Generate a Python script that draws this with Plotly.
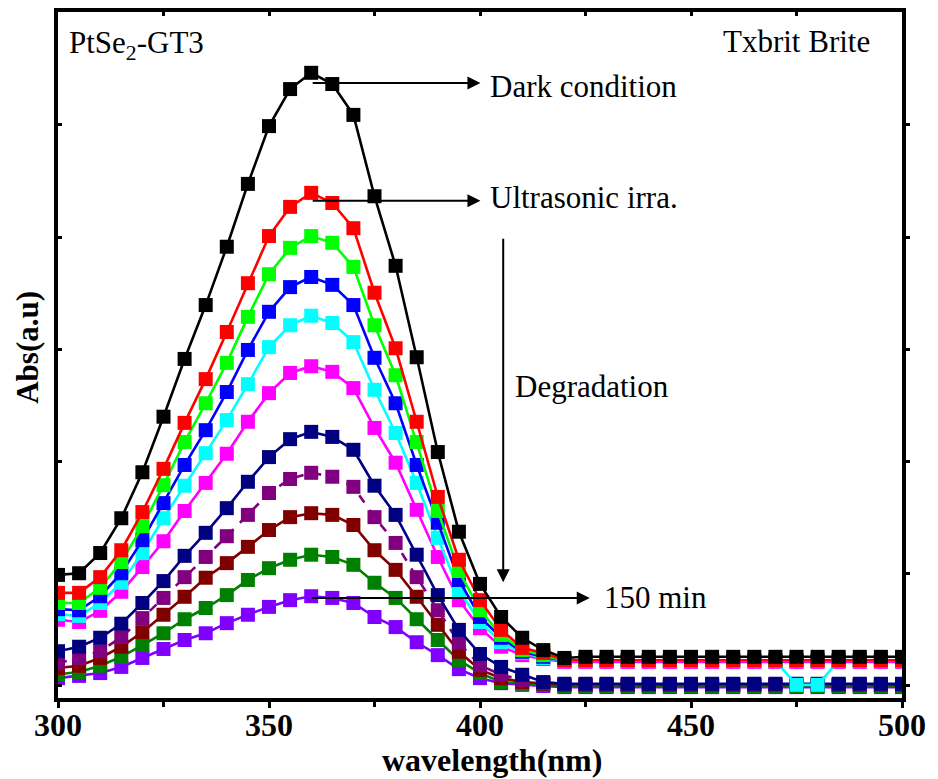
import plotly.graph_objects as go

# Wavelength grid (nm), one reading every 5 nm
wavelength = list(range(300, 505, 5))

# Absorbance spectra of the dye solution
abs_dark = [0.198, 0.201, 0.237, 0.299, 0.381, 0.480, 0.583, 0.679, 0.783, 0.895,
            0.998, 1.064, 1.093, 1.073, 1.018, 0.873, 0.749, 0.586, 0.417, 0.275,
            0.182, 0.123, 0.086, 0.064, 0.050, 0.052, 0.052, 0.052, 0.052, 0.052,
            0.052, 0.052, 0.052, 0.052, 0.052, 0.052, 0.052, 0.052, 0.052, 0.052, 0.052]
abs_ultra = [0.166, 0.166, 0.194, 0.242, 0.310, 0.387, 0.469, 0.547, 0.631, 0.718,
             0.802, 0.854, 0.879, 0.861, 0.816, 0.701, 0.602, 0.471, 0.337, 0.225,
             0.153, 0.100, 0.068, 0.059, 0.046, 0.046, 0.046, 0.046, 0.046, 0.046,
             0.046, 0.046, 0.046, 0.046, 0.046, 0.046, 0.046, 0.046, 0.046, 0.046, 0.046]
abs_t1 = [0.148, 0.148, 0.175, 0.221, 0.285, 0.358, 0.435, 0.504, 0.576, 0.658,
          0.734, 0.781, 0.802, 0.790, 0.747, 0.643, 0.554, 0.435, 0.312, 0.205,
          0.135, 0.091, 0.064, 0.055, 0.045, 0.045, 0.045, 0.045, 0.045, 0.045,
          0.045, 0.045, 0.045, 0.045, 0.045, 0.045, 0.045, 0.045, 0.045, 0.045, 0.045]
abs_t2 = [0.137, 0.135, 0.160, 0.201, 0.260, 0.326, 0.394, 0.456, 0.524, 0.599,
          0.667, 0.711, 0.729, 0.715, 0.679, 0.585, 0.504, 0.394, 0.291, 0.189,
          0.123, 0.086, 0.061, 0.052, 0.045, 0.045, 0.045, 0.045, 0.045, 0.045,
          0.045, 0.045, 0.045, 0.045, 0.045, 0.045, 0.045, 0.045, 0.045, 0.045, 0.045]
abs_t3 = [0.128, 0.125, 0.148, 0.184, 0.237, 0.299, 0.357, 0.415, 0.474, 0.538,
          0.604, 0.643, 0.660, 0.647, 0.613, 0.528, 0.451, 0.362, 0.264, 0.171,
          0.114, 0.078, 0.059, 0.050, 0.045, 0.045, 0.045, 0.045, 0.045, 0.045,
          0.045, 0.045, 0.045, 0.045, 0.045, 0.002, 0.002, 0.045, 0.045, 0.045, 0.045]
abs_t4 = [0.118, 0.114, 0.134, 0.168, 0.212, 0.258, 0.312, 0.362, 0.414, 0.471,
          0.522, 0.558, 0.570, 0.560, 0.531, 0.460, 0.398, 0.314, 0.230, 0.153,
          0.103, 0.070, 0.055, 0.048, 0.043, 0.043, 0.043, 0.043, 0.043, 0.043,
          0.043, 0.043, 0.043, 0.043, 0.043, 0.043, 0.043, 0.043, 0.043, 0.043, 0.043]
abs_t5 = [0.062, 0.070, 0.086, 0.111, 0.148, 0.187, 0.232, 0.273, 0.317, 0.364,
          0.408, 0.440, 0.453, 0.444, 0.421, 0.357, 0.305, 0.234, 0.162, 0.100,
          0.057, 0.034, 0.020, 0.007, 0.004, 0.004, 0.004, 0.004, 0.004, 0.004,
          0.004, 0.004, 0.004, 0.004, 0.004, 0.004, 0.004, 0.004, 0.004, 0.004, 0.004]
abs_t6 = [0.041, 0.050, 0.062, 0.087, 0.121, 0.157, 0.194, 0.230, 0.267, 0.305,
          0.344, 0.369, 0.380, 0.373, 0.355, 0.301, 0.255, 0.194, 0.135, 0.077,
          0.037, 0.020, 0.011, 0.005, 0.002, 0.002, 0.002, 0.002, 0.002, 0.002,
          0.002, 0.002, 0.002, 0.002, 0.002, 0.002, 0.002, 0.002, 0.002, 0.002, 0.002]
abs_t7 = [0.032, 0.036, 0.050, 0.070, 0.096, 0.127, 0.159, 0.193, 0.219, 0.248,
          0.278, 0.301, 0.308, 0.305, 0.287, 0.242, 0.207, 0.159, 0.109, 0.061,
          0.029, 0.014, 0.007, 0.004, 0.002, 0.002, 0.002, 0.002, 0.002, 0.002,
          0.002, 0.002, 0.002, 0.002, 0.002, 0.002, 0.002, 0.002, 0.002, 0.002, 0.002]
abs_t8 = [0.021, 0.025, 0.036, 0.052, 0.073, 0.094, 0.119, 0.139, 0.162, 0.189,
          0.210, 0.225, 0.234, 0.230, 0.216, 0.184, 0.157, 0.119, 0.082, 0.046,
          0.023, 0.007, 0.004, 0.002, 0.000, 0.000, 0.000, 0.000, 0.000, 0.000,
          0.000, 0.000, 0.000, 0.000, 0.000, 0.000, 0.000, 0.000, 0.000, 0.000, 0.000]
abs_150 = [0.014, 0.018, 0.023, 0.034, 0.050, 0.066, 0.082, 0.094, 0.112, 0.127,
           0.141, 0.153, 0.160, 0.157, 0.148, 0.123, 0.105, 0.078, 0.055, 0.030,
           0.014, 0.005, 0.002, 0.000, -0.002, -0.002, -0.002, -0.002, -0.002, -0.002,
           -0.002, -0.002, -0.002, -0.002, -0.002, -0.002, -0.002, -0.002, -0.002, -0.002, -0.002]

series_names = ["Dark", "Ultrasonic", "t1", "t2", "t3", "t4", "t5", "t6", "t7", "t8", "150 min"]
series_values = [abs_dark, abs_ultra, abs_t1, abs_t2, abs_t3, abs_t4,
                 abs_t5, abs_t6, abs_t7, abs_t8, abs_150]
series_colors = ["#000000", "#FF0000", "#00FF00", "#0000FF", "#00FFFF", "#FF00FF",
                 "#000080", "#800080", "#800000", "#008000", "#8000FF"]
series_dash = ["solid", "solid", "solid", "solid", "solid", "solid",
               "solid", "dash", "solid", "solid", "solid"]

x_ticks = [300, 350, 400, 450, 500]

FONT = "Liberation Serif, Times New Roman, serif"

fig = go.Figure()

# Last-measured spectrum first so the dark spectrum sits on top
for name, vals, col, dash in reversed(list(zip(series_names, series_values, series_colors, series_dash))):
    fig.add_trace(go.Scatter(
        x=wavelength, y=vals, name=name, mode="lines+markers",
        line=dict(color=col, width=2.6, dash=dash),
        marker=dict(symbol="square", size=14, color=col, line=dict(width=0)),
        showlegend=False,
    ))

# invisible trace to activate the mirrored top/right axes
fig.add_trace(go.Scatter(x=[300], y=[0], xaxis="x2", yaxis="y2", mode="markers",
                         marker=dict(opacity=0), showlegend=False, hoverinfo="skip"))

Y_RANGE = [-0.0214, 1.2014]
X_RANGE = [300, 500]

fig.update_layout(
    width=938, height=779,
    margin=dict(l=58, r=31, t=12, b=81),
    paper_bgcolor="white", plot_bgcolor="white",
    font=dict(family=FONT, color="black"),
    xaxis=dict(
        range=X_RANGE, tickvals=x_ticks, ticktext=[str(v) for v in x_ticks],
        showgrid=False, zeroline=False,
        showline=True, linecolor="black", linewidth=4,
        ticks="outside", ticklen=6, tickwidth=3, tickcolor="black",
        ticklabelstandoff=-10,
        tickfont=dict(family=FONT, size=32, color="black", weight="bold"),
        minor=dict(tickvals=[325, 375, 425, 475], ticks="outside", ticklen=5,
                   tickwidth=3, tickcolor="black"),
    ),
    yaxis=dict(
        range=Y_RANGE, tickvals=[0, 0.2, 0.4, 0.6, 0.8, 1.0], showticklabels=False,
        showgrid=False, zeroline=False,
        showline=True, linecolor="black", linewidth=4,
        ticks="inside", ticklen=4, tickwidth=3, tickcolor="black",
    ),
    xaxis2=dict(
        range=X_RANGE, overlaying="x", side="top", anchor="y2",
        tickvals=[325, 350, 375, 400, 425, 450, 475], showticklabels=False,
        showgrid=False, zeroline=False,
        showline=True, linecolor="black", linewidth=4,
        ticks="inside", ticklen=4, tickwidth=3, tickcolor="black",
    ),
    yaxis2=dict(
        range=Y_RANGE, overlaying="y", side="right", anchor="x2",
        tickvals=[0, 0.2, 0.4, 0.6, 0.8, 1.0], showticklabels=False,
        showgrid=False, zeroline=False,
        showline=True, linecolor="black", linewidth=4,
        ticks="outside", ticklen=4, tickwidth=3, tickcolor="black",
    ),
)

ann_font = dict(family=FONT, size=31, color="black")

# axis titles
fig.add_annotation(text="<b>wavelength(nm)</b>", xref="x", yref="paper",
                   x=402.9, y=-0.0904, showarrow=False,
                   xanchor="center", yanchor="middle",
                   font=dict(family=FONT, size=32, color="black"))
fig.add_annotation(text="<b>Abs(a.u)</b>", xref="paper", yref="paper",
                   x=-0.0363, y=0.511, showarrow=False, textangle=-90,
                   xanchor="center", yanchor="middle",
                   font=dict(family=FONT, size=31, color="black"))

# corner labels
fig.add_annotation(text="PtSe<sub>2</sub>-GT3", xref="x", yref="y",
                   x=302.1, y=1.143, showarrow=False, xanchor="left", yanchor="middle",
                   font=ann_font)
fig.add_annotation(text="Txbrit Brite", xref="x", yref="y",
                   x=492.9, y=1.148, showarrow=False, xanchor="right", yanchor="middle",
                   font=ann_font)

# arrows
def arrow(x_head, y_head, x_tail, y_tail):
    fig.add_annotation(x=x_head, y=y_head, ax=x_tail, ay=y_tail,
                       xref="x", yref="y", axref="x", ayref="y",
                       text="", showarrow=True, arrowhead=2, arrowsize=1.3,
                       arrowwidth=2, arrowcolor="black")

arrow(400.1, 1.075, 360.0, 1.075)
arrow(400.1, 0.865, 360.0, 0.865)
arrow(405.5, 0.185, 405.5, 0.800)
arrow(426.0, 0.157, 359.8, 0.157)

fig.add_annotation(text="Dark condition", xref="x", yref="y", x=401.8, y=1.068,
                   showarrow=False, xanchor="left", yanchor="middle", font=ann_font)
fig.add_annotation(text="Ultrasonic irra.", xref="x", yref="y", x=401.8, y=0.870,
                   showarrow=False, xanchor="left", yanchor="middle", font=ann_font)
fig.add_annotation(text="Degradation", xref="x", yref="y", x=407.9, y=0.533,
                   showarrow=False, xanchor="left", yanchor="middle", font=ann_font)
fig.add_annotation(text="150 min", xref="x", yref="y", x=428.9, y=0.157,
                   showarrow=False, xanchor="left", yanchor="middle", font=ann_font)

fig.write_html("out.html")
